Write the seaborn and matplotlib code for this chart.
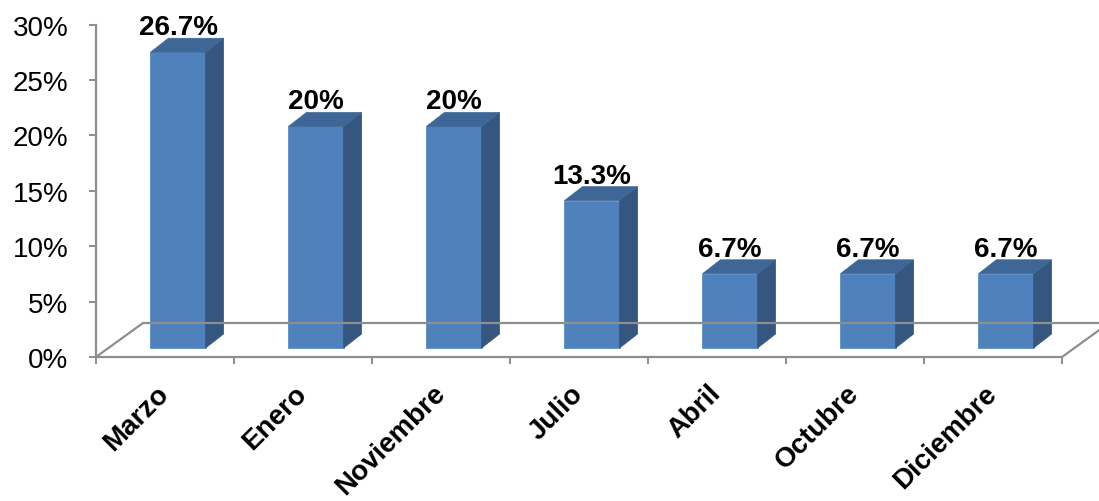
import matplotlib
matplotlib.use("Agg")
import matplotlib.pyplot as plt
import matplotlib.transforms as mtransforms
from matplotlib.patches import Polygon
from matplotlib.lines import Line2D
from matplotlib.ticker import FixedLocator
import seaborn as sns
import pandas as pd

# Share of cases per month
months = ["Marzo", "Enero", "Noviembre", "Julio", "Abril", "Octubre", "Diciembre"]
shares = [26.7, 20, 20, 13.3, 6.7, 6.7, 6.7]
value_labels = ["26.7%", "20%", "20%", "13.3%", "6.7%", "6.7%", "6.7%"]
y_ticks = [0, 5, 10, 15, 20, 25, 30]
y_tick_labels = ["0%", "5%", "10%", "15%", "20%", "25%", "30%"]

FRONT = "#4F81BD"
SIDE = "#35567F"
TOP = "#3E6797"
AXIS = "#8E8E8E"

sns.set_theme(style="white")
plt.rcParams["font.family"] = ["Liberation Sans", "DejaVu Sans"]

W, H = 1099, 502
fig = plt.figure(figsize=(W / 100, H / 100), dpi=100)
left_px, right_px = 96, 1062
top_px, base_px = 25.7, 358
ax = fig.add_axes([left_px / W, 1 - base_px / H,
                   (right_px - left_px) / W, (base_px - top_px) / H])

df = pd.DataFrame({"mes": months, "pct": shares})
sns.barplot(data=df, x="mes", y="pct", order=months, color=FRONT,
            saturation=1, width=0.4, ax=ax, edgecolor="#5B8DC9", linewidth=0.6)
ax.set_xlim(-0.5, len(months) - 0.5)
ax.set_ylim(0, 30)
ax.set_xlabel("")
ax.set_ylabel("")

# pseudo-3D geometry (pixels)
shift_x, shift_y = 13, 9        # bars stand slightly behind the axis plane
depth_x, depth_y = 18, 14       # bar depth
floor_dx, floor_dy = 47, 34     # floor depth
px_per_cat = (right_px - left_px) / len(months)
px_per_pct = (base_px - top_px) / 30
dxd = depth_x / px_per_cat
dyd = depth_y / px_per_pct

bar_tr = mtransforms.offset_copy(ax.transData, fig=fig, x=shift_x, y=shift_y, units="dots")
lab_tr = mtransforms.offset_copy(ax.transData, fig=fig, x=shift_x, y=shift_y + 18, units="dots")

for p, lab in zip(list(ax.patches), value_labels):
    p.set_transform(bar_tr)
    p.set_zorder(3)
    x0, w, h = p.get_x(), p.get_width(), p.get_height()
    side = Polygon([(x0 + w, 0), (x0 + w + dxd, dyd), (x0 + w + dxd, h + dyd), (x0 + w, h)],
                   closed=True, facecolor=SIDE, edgecolor=SIDE, lw=0.5,
                   transform=bar_tr, zorder=3, clip_on=False)
    top = Polygon([(x0, h), (x0 + w, h), (x0 + w + dxd, h + dyd), (x0 + dxd, h + dyd)],
                  closed=True, facecolor=TOP, edgecolor=TOP, lw=0.5,
                  transform=bar_tr, zorder=3, clip_on=False)
    ax.add_patch(side)
    ax.add_patch(top)
    ax.text(x0 + w / 2, h, lab, transform=lab_tr, ha="center", va="baseline",
            fontsize=20, fontweight="bold", color="black", zorder=5, clip_on=False)

# axes frame: front plane spines plus the floor drawn in depth
for s in ("top", "right"):
    ax.spines[s].set_visible(False)
for s in ("left", "bottom"):
    ax.spines[s].set_color(AXIS)
    ax.spines[s].set_linewidth(1.6)
    ax.spines[s].set_zorder(2)

base_disp = H - base_px
floor_lines = [
    [(left_px + floor_dx, base_disp + floor_dy), (W + 20, base_disp + floor_dy)],
    [(left_px, base_disp), (left_px + floor_dx, base_disp + floor_dy)],
    [(right_px, base_disp), (right_px + floor_dx, base_disp + floor_dy)],
]
for pts in floor_lines:
    (x_a, y_a), (x_b, y_b) = pts
    fig.add_artist(Line2D([x_a, x_b], [y_a, y_b], transform=mtransforms.IdentityTransform(),
                          color=AXIS, lw=1.6, zorder=1))

ax.set_yticks(y_ticks)
ax.set_yticklabels(y_tick_labels)
ax.tick_params(axis="y", which="major", left=True, length=5, width=1.4, color=AXIS,
               direction="out", pad=15, labelsize=20, labelcolor="black")

ax.set_xticks(range(len(months)))
ax.set_xticklabels(months)
ax.xaxis.set_minor_locator(FixedLocator([i - 0.5 for i in range(len(months) + 1)]))
ax.tick_params(axis="x", which="major", bottom=True, length=0, pad=23)
ax.tick_params(axis="x", which="minor", bottom=True, length=5, width=1.4, color=AXIS,
               direction="out")
for t in ax.get_xticklabels():
    t.set_rotation(45)
    t.set_ha("right")
    t.set_va("center")
    t.set_rotation_mode("anchor")
    t.set_fontsize(20)
    t.set_fontweight("bold")
    t.set_color("black")
    t.set_transform(t.get_transform() + mtransforms.ScaledTranslation(0, 0, fig.dpi_scale_trans))

ax.patch.set_alpha(0)
fig.patch.set_facecolor("white")
fig.savefig("out.png", dpi=100)
